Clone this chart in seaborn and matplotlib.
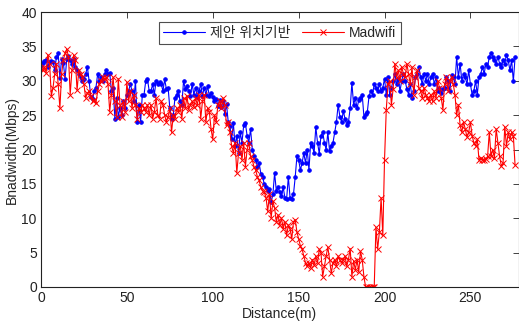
import numpy as np
import pandas as pd
import matplotlib
matplotlib.use("Agg")
import matplotlib.pyplot as plt
import seaborn as sns

# Distance (m), one sample per metre
distance = list(range(0, 277))

# Bandwidth (Mbps) - proposed location-based scheme
proposed = [
    32.2, 32.6, 32.9, 33.0, 32.0, 32.8, 32.9, 32.7, 31.5, 33.5,
    34.0, 30.4, 33.2, 32.6, 30.3, 33.1, 33.6, 33.0, 32.4, 33.2,
    32.0, 31.5, 31.0, 30.5, 30.0, 30.2, 31.0, 32.0, 30.0, 27.6,
    27.3, 28.5, 29.0, 31.0, 30.0, 30.5, 30.0, 31.0, 31.5, 31.0,
    31.2, 28.5, 29.0, 24.5, 27.5, 24.8, 26.0, 25.0, 27.0, 26.0,
    28.0, 28.5, 29.5, 28.5, 27.0, 30.0, 24.0, 26.5, 24.0, 28.0,
    28.0, 30.0, 30.2, 28.5, 28.5, 29.5, 28.0, 30.0, 29.5, 29.8,
    29.5, 28.5, 30.2, 28.8, 29.0, 26.0, 24.5, 25.0, 27.5, 28.0,
    28.5, 27.0, 26.5, 30.0, 28.8, 29.2, 28.5, 27.8, 29.5, 28.0,
    29.0, 27.6, 28.5, 29.5, 27.8, 29.0, 28.0, 29.2, 27.8, 28.2,
    27.6, 27.0, 27.4, 26.4, 27.2, 26.2, 27.0, 25.2, 26.6, 24.0,
    23.4, 21.5, 23.8, 20.5, 22.0, 19.5, 22.5, 21.0, 23.5, 23.8,
    22.0, 21.0, 23.0, 20.0, 19.0, 18.5, 17.5, 18.0, 16.5, 16.0,
    15.0, 14.5, 14.0, 14.2, 12.3, 13.5, 16.6, 14.0, 14.5, 13.8,
    13.2, 14.5, 13.0, 12.8, 16.0, 13.0, 12.8, 13.5, 16.0, 19.0,
    18.5, 17.0, 18.0, 19.5, 18.0, 20.0, 17.0, 21.0, 20.5, 19.5,
    23.3, 21.0, 19.4, 22.0, 22.5, 21.0, 20.0, 22.5, 19.8, 20.5,
    21.0, 22.5, 24.0, 26.5, 24.8, 24.0, 25.6, 24.5, 23.5, 24.0,
    26.0, 29.7, 26.5, 27.5, 26.0, 27.2, 27.5, 28.0, 24.8, 25.2,
    25.5, 27.8, 28.5, 28.0, 29.5, 29.0, 28.5, 29.5, 28.5, 29.0,
    30.3, 28.0, 30.5, 28.0, 29.0, 30.0, 31.0, 29.5, 30.3, 28.5,
    30.0, 31.0, 30.0, 28.8, 28.0, 29.5, 27.5, 28.5, 30.5, 31.0,
    32.0, 30.5, 29.5, 31.0, 30.0, 31.0, 29.5, 30.5, 31.0, 29.5,
    30.5, 28.5, 29.0, 28.2, 28.8, 29.0, 30.5, 30.0, 28.5, 30.8,
    30.5, 29.5, 33.5, 30.5, 32.5, 30.0, 31.0, 30.5, 29.5, 31.5,
    29.5, 28.0, 28.5, 30.0, 28.0, 30.5, 31.0, 32.0, 31.0, 32.5,
    32.0, 33.5, 34.0, 33.5, 33.0, 32.5, 33.5, 32.5, 32.0, 33.0,
    32.5, 33.8, 33.0, 31.5, 33.0, 29.9, 33.4,
]

# Bandwidth (Mbps) - Madwifi
madwifi = [
    31.8, 31.5, 32.0, 31.2, 33.8, 32.5, 27.8, 29.0, 31.0, 32.5,
    29.5, 26.0, 31.0, 33.0, 34.0, 34.6, 33.5, 28.0, 31.5, 33.7,
    33.0, 28.6, 31.5, 31.0, 30.5, 29.5, 27.5, 28.2, 28.5, 27.8,
    27.0, 27.2, 26.8, 28.5, 29.5, 30.0, 30.5, 30.2, 30.5, 29.5,
    25.5, 28.0, 30.5, 27.0, 24.8, 30.3, 26.5, 24.8, 27.0, 25.5,
    29.8, 27.0, 28.5, 26.0, 28.0, 26.5, 24.5, 26.0, 25.5, 26.5,
    26.0, 25.5, 26.5, 25.0, 26.5, 24.5, 25.5, 27.5, 25.0, 24.5,
    27.0, 26.5, 25.0, 24.0, 24.8, 26.0, 22.5, 25.0, 24.5, 26.0,
    25.5, 26.5, 24.5, 27.5, 26.0, 27.8, 25.8, 26.5, 27.0, 26.2,
    27.5, 26.5, 28.0, 24.5, 27.0, 28.0, 24.0, 26.0, 25.5, 23.0,
    21.5, 25.0, 24.0, 26.5, 27.0, 26.0, 27.5, 26.5, 23.5, 24.0,
    22.5, 20.5, 19.5, 21.0, 16.6, 19.5, 20.5, 18.5, 21.0, 17.5,
    20.0, 21.0, 19.0, 18.5, 17.5, 17.0, 16.0, 15.5, 14.5, 14.0,
    13.8, 13.0, 11.0, 13.5, 10.0, 12.5, 11.5, 9.5, 10.5, 9.0,
    10.0, 8.5, 9.5, 7.5, 9.0, 8.5, 7.0, 9.5, 9.8, 8.0,
    7.0, 6.0, 5.5, 4.5, 3.5, 3.0, 3.5, 2.8, 4.0, 3.2,
    4.5, 3.5, 5.5, 5.0, 1.5, 3.0, 4.5, 5.8, 4.0, 2.0,
    3.5, 4.0, 3.0, 4.5, 4.0, 3.5, 4.0, 4.5, 3.0, 4.0,
    5.6, 1.5, 3.8, 2.5, 4.0, 2.2, 5.2, 4.0, 1.5, 0.0,
    0.0, 0.0, 0.0, 0.0, 0.0, 8.7, 5.5, 8.0, 13.0, 7.5,
    18.5, 25.7, 29.5, 30.0, 26.5, 28.8, 32.5, 30.5, 31.5, 30.0,
    32.0, 31.0, 30.5, 32.5, 31.0, 29.5, 32.0, 28.0, 30.5, 31.5,
    29.0, 28.5, 27.5, 29.0, 28.0, 27.5, 27.0, 28.0, 27.0, 28.5,
    27.5, 30.0, 29.0, 27.5, 25.8, 29.5, 30.5, 28.5, 30.0, 30.5,
    29.5, 28.0, 25.0, 26.5, 23.5, 22.5, 24.0, 23.0, 21.8, 22.5,
    24.0, 22.0, 21.0, 20.5, 21.5, 18.5, 18.8, 18.5, 18.5, 18.6,
    19.0, 22.5, 19.0, 20.0, 18.8, 23.0, 21.0, 19.0, 17.6, 18.0,
    23.3, 20.5, 22.5, 21.5, 22.5, 22.0, 17.7,
]

labels = ["제안 위치기반", "Madwifi"]

sns.set_style("white")
plt.rcParams["font.family"] = ["Liberation Sans", "Noto Sans CJK KR", "DejaVu Sans"]

df = pd.DataFrame({"distance": distance, "proposed": proposed, "madwifi": madwifi})

fig = plt.figure(figsize=(5.19, 3.23), dpi=100)
ax = fig.add_axes([41 / 519, 1 - 287 / 323, 477.5 / 519, 275 / 323])

sns.lineplot(data=df, x="distance", y="proposed", ax=ax, color="#0000ff",
             marker=".", markersize=5, markeredgecolor="#0000ff",
             markerfacecolor="#0000ff", linewidth=0.8, label=labels[0])
sns.lineplot(data=df, x="distance", y="madwifi", ax=ax, color="#ff0000",
             marker="x", markersize=4, markeredgewidth=0.7,
             markeredgecolor="#ff0000", linewidth=0.8, label=labels[1])

ax.set_xlim(0, 278)
ax.set_ylim(0, 40)
ax.set_xticks([0, 50, 100, 150, 200, 250])
ax.set_yticks(range(0, 41, 5))
ax.set_xlabel("Distance(m)", fontsize=10, labelpad=1)
ax.set_ylabel("Bnadwidth(Mbps)", fontsize=10, labelpad=2)
ax.tick_params(direction="in", length=4, width=0.6, top=True, right=True,
               labelsize=10, colors="#222222", pad=3)
for s in ax.spines.values():
    s.set_color("#222222")
    s.set_linewidth(0.8)

leg = ax.legend(loc="upper center", ncol=2, fontsize=10, frameon=True,
                fancybox=False, edgecolor="#222222", borderpad=0.3,
                handlelength=3, columnspacing=0.8, handletextpad=0.4,
                bbox_to_anchor=(0.5, 0.99))
leg.get_frame().set_linewidth(0.8)

fig.savefig("out.png", dpi=100)
